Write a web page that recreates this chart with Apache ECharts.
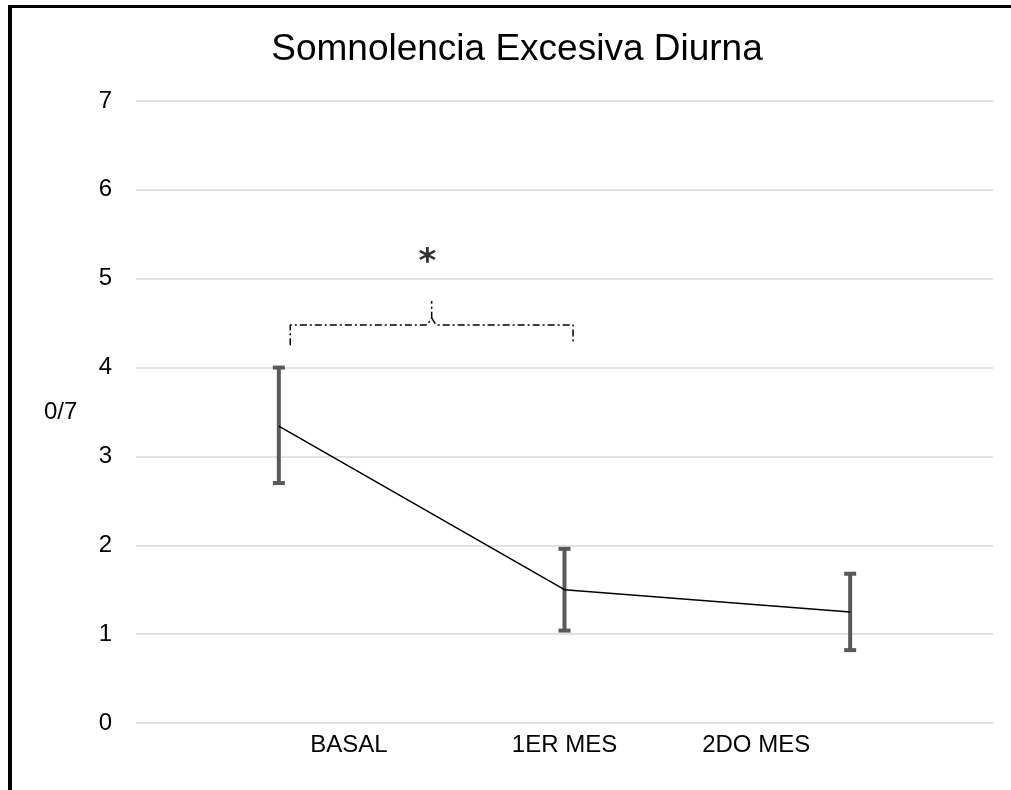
<!DOCTYPE html>
<html>
<head>
<meta charset="utf-8">
<script src="https://cdn.jsdelivr.net/npm/echarts@6/dist/echarts.min.js"></script>
<style>html,body{margin:0;padding:0;background:#fff}#c{width:1011px;height:790px}</style>
</head>
<body>
<div id="c"></div>
<script>
const categories = ['BASAL', '1ER MES', '2DO MES'];
const means = [3.34, 1.5, 1.25];
const lows = [2.7, 1.04, 0.82];
const highs = [4.0, 1.96, 1.68];
const yTicks = [0, 1, 2, 3, 4, 5, 6, 7];
// significance bracket (hidden value x-axis, category i centred at i + 0.5)
const bracketLeft = [[0.54, 4.25], [0.54, 4.48], [1.02, 4.48], [1.035, 4.56], [1.035, 4.75]];
const bracketRight = [[1.035, 4.56], [1.05, 4.48], [1.53, 4.48], [1.53, 4.27]];
const starPoint = [[1.02, 5.17]];

const chart = echarts.init(document.getElementById('c'));
const FONT = '"Liberation Sans", Arial, sans-serif';
const errData = categories.map((c, i) => [i, lows[i], highs[i]]);

chart.setOption({
  animation: false,
  backgroundColor: '#fff',
  title: {
    text: 'Somnolencia Excesiva Diurna',
    left: 512, top: 26, textAlign: 'center',
    textStyle: { fontFamily: FONT, fontSize: 37, fontWeight: 'normal', color: '#000' }
  },
  grid: { left: 136, right: 18, top: 101, bottom: 67 },
  xAxis: [{
    type: 'category', data: categories, boundaryGap: true,
    axisLine: { show: false }, axisTick: { show: false },
    axisLabel: {
      margin: 10, fontFamily: FONT, fontSize: 24, color: '#000',
      formatter: (v, i) => ['{a|', '{b|', '{c|'][i] + v + '}',
      rich: {
        a: { fontFamily: FONT, fontSize: 24, color: '#000', padding: [0, 0, 0, 140] },
        b: { fontFamily: FONT, fontSize: 24, color: '#000', padding: [0, 0, 0, 0] },
        c: { fontFamily: FONT, fontSize: 24, color: '#000', padding: [0, 188, 0, 0] }
      }
    }
  }, {
    type: 'value', min: 0, max: 3, show: false, position: 'bottom'
  }],
  yAxis: {
    type: 'value', min: yTicks[0], max: yTicks[yTicks.length - 1], interval: 1,
    axisLine: { show: false }, axisTick: { show: false },
    axisLabel: { margin: 24, fontFamily: FONT, fontSize: 24, color: '#000' },
    splitLine: { lineStyle: { color: '#d9d9d9', width: 1.5 } }
  },
  graphic: [
    { type: 'rect', shape: { x: 8, y: 5, width: 4, height: 785 }, style: { fill: '#000' } },
    { type: 'rect', shape: { x: 8, y: 5, width: 1003, height: 3 }, style: { fill: '#000' } },
    { type: 'text', left: 44, top: 400, style: { text: '0/7', font: '24px ' + FONT, fill: '#000' } }
  ],
  series: [
    {
      type: 'custom', xAxisIndex: 0, data: errData, z: 2,
      renderItem: (params, api) => {
        const x = api.value(0);
        const lo = api.coord([x, api.value(1)]);
        const hi = api.coord([x, api.value(2)]);
        const st = { stroke: '#595959', lineWidth: 4 };
        return {
          type: 'group', children: [
            { type: 'line', shape: { x1: lo[0], y1: lo[1], x2: hi[0], y2: hi[1] }, style: st },
            { type: 'line', shape: { x1: lo[0] - 6, y1: lo[1], x2: lo[0] + 6, y2: lo[1] }, style: st },
            { type: 'line', shape: { x1: hi[0] - 6, y1: hi[1], x2: hi[0] + 6, y2: hi[1] }, style: st }
          ]
        };
      }
    },
    {
      type: 'line', xAxisIndex: 0, data: means, symbol: 'none', z: 3,
      lineStyle: { color: '#000', width: 1.5 }
    },
    {
      type: 'line', xAxisIndex: 1, data: bracketLeft, symbol: 'none',
      lineStyle: { color: '#000', width: 1.5, type: [7, 3, 2, 3] }
    },
    {
      type: 'line', xAxisIndex: 1, data: bracketRight, symbol: 'none',
      lineStyle: { color: '#000', width: 1.5, type: [7, 3, 2, 3] }
    },
    {
      type: 'scatter', xAxisIndex: 1, data: starPoint, symbolSize: 0,
      label: { show: true, position: 'inside', formatter: '*', fontFamily: '"DejaVu Sans", sans-serif', fontSize: 34, fontWeight: 'bold', color: '#000' }
    }
  ]
});
</script>
</body>
</html>
